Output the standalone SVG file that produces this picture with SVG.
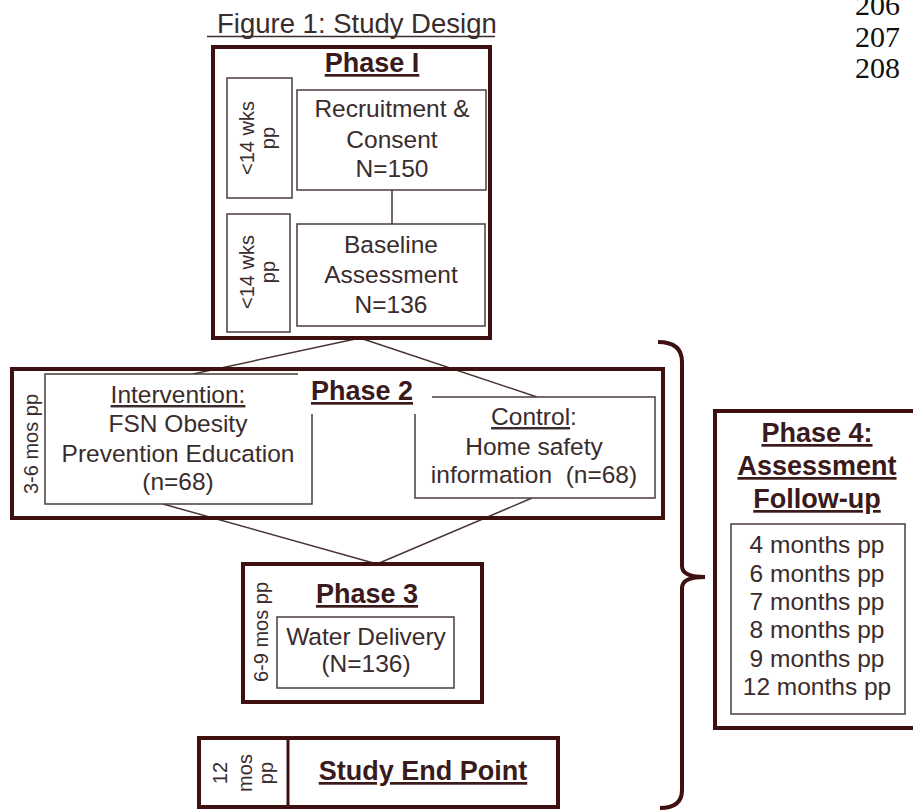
<svg xmlns="http://www.w3.org/2000/svg" width="913" height="810" viewBox="0 0 913 810">
<style>
.thick{fill:none;stroke:#3e1010;stroke-width:4}
.thin{fill:#fff;stroke:#4a3c3c;stroke-width:1.5}
.conn{fill:none;stroke:#4a3434;stroke-width:1.5}
text{font-family:"Liberation Sans",Arial,sans-serif;fill:#3a2c2c}
.b{font-size:24.5px;text-anchor:middle}
.h{font-size:27px;font-weight:bold;text-anchor:middle;text-decoration:underline;fill:#3a1a1a}
.r{font-size:20px;text-anchor:middle}
.ln{font-family:"Liberation Serif","Times New Roman",serif;font-size:30px;fill:#111}
</style>
<rect width="913" height="810" fill="#fff"/>

<g id="title">
<text x="217" y="33" style="font-size:27.5px">Figure 1: Study Design</text>
<line x1="207" y1="36.5" x2="495" y2="36.5" stroke="#3a2c2c" stroke-width="1.5"/>
</g>
<g id="line-numbers">
<text class="ln" x="855" y="15">206</text>
<text class="ln" x="855" y="47">207</text>
<text class="ln" x="855" y="78">208</text>
</g>

<g id="connectors">
<line class="conn" x1="392" y1="190" x2="392" y2="224"/>
<line class="conn" x1="360" y1="338" x2="193" y2="374"/>
<line class="conn" x1="360" y1="338" x2="537" y2="397"/>
<line class="conn" x1="163" y1="504" x2="377" y2="564"/>
<line class="conn" x1="532" y1="498" x2="377" y2="564"/>
<path class="thick" d="M658,342 Q682,342 682,362 L682,566 Q682,577 705,577 Q682,577 682,588 L682,790 Q682,808 660,808"/>
</g>

<g id="phase1">
<rect class="thick" x="213" y="47" width="277" height="291"/>
<text class="h" x="372" y="72">Phase I</text>
</g>
<g id="time1">
<rect class="thin" x="227" y="78" width="65" height="120"/>
<text class="r" transform="translate(254,138) rotate(-90)">&lt;14 wks</text>
<text class="r" transform="translate(275,138) rotate(-90)">pp</text>
</g>
<g id="recruitment">
<rect class="thin" x="297" y="90" width="189" height="100"/>
<text class="b" x="392" y="117">Recruitment &amp;</text>
<text class="b" x="392" y="148">Consent</text>
<text class="b" x="392" y="177">N=150</text>
</g>
<g id="time2">
<rect class="thin" x="227" y="214" width="63" height="118"/>
<text class="r" transform="translate(254,272) rotate(-90)">&lt;14 wks</text>
<text class="r" transform="translate(275,272) rotate(-90)">pp</text>
</g>
<g id="baseline">
<rect class="thin" x="297" y="224" width="188" height="102"/>
<text class="b" x="391" y="253">Baseline</text>
<text class="b" x="391" y="283">Assessment</text>
<text class="b" x="391" y="313">N=136</text>
</g>

<g id="phase2">
<rect class="thick" x="12" y="369" width="651" height="149"/>
<text class="r" transform="translate(38,444) rotate(-90)">3-6 mos pp</text>
</g>
<g id="intervention">
<rect class="thin" x="45" y="374" width="267" height="130"/>
<text class="b" x="178" y="403" style="text-decoration:underline">Intervention:</text>
<text class="b" x="178" y="432">FSN Obesity</text>
<text class="b" x="178" y="462">Prevention Education</text>
<text class="b" x="178" y="490">(n=68)</text>
</g>
<g id="control">
<rect class="thin" x="415" y="397" width="240" height="101"/>
<text class="b" x="534" y="425"><tspan style="text-decoration:underline">Control</tspan>:</text>
<text class="b" x="534" y="455">Home safety</text>
<text class="b" x="534" y="483" xml:space="preserve">information  (n=68)</text>
</g>
<g id="phase2-label">
<rect x="298" y="372" width="134" height="42" fill="#fff"/>
<text class="h" x="362" y="400">Phase 2</text>
</g>

<g id="phase3">
<rect class="thick" x="243" y="564" width="239" height="138"/>
<text class="r" transform="translate(268,632) rotate(-90)">6-9 mos pp</text>
<text class="h" x="367" y="603">Phase 3</text>
</g>
<g id="water">
<rect class="thin" x="277" y="617" width="177" height="71"/>
<text class="b" x="366" y="645">Water Delivery</text>
<text class="b" x="366" y="672">(N=136)</text>
</g>

<g id="endpoint">
<rect class="thick" x="199" y="738" width="359" height="69"/>
<line x1="288" y1="738" x2="288" y2="807" stroke="#3e1010" stroke-width="3"/>
<text class="r" transform="translate(227,773) rotate(-90)">12</text>
<text class="r" transform="translate(252,773) rotate(-90)">mos</text>
<text class="r" transform="translate(273,773) rotate(-90)">pp</text>
<text class="h" x="423" y="780">Study End Point</text>
</g>

<g id="phase4">
<rect class="thick" x="715" y="411" width="200" height="317"/>
<text class="h" x="817" y="442">Phase 4:</text>
<text class="h" x="817" y="475">Assessment</text>
<text class="h" x="817" y="508">Follow-up</text>
</g>
<g id="followup">
<rect class="thin" x="731" y="524" width="174" height="190"/>
<text class="b" x="817" y="553">4 months pp</text>
<text class="b" x="817" y="582">6 months pp</text>
<text class="b" x="817" y="610">7 months pp</text>
<text class="b" x="817" y="638">8 months pp</text>
<text class="b" x="817" y="667">9 months pp</text>
<text class="b" x="817" y="695">12 months pp</text>
</g>
</svg>
